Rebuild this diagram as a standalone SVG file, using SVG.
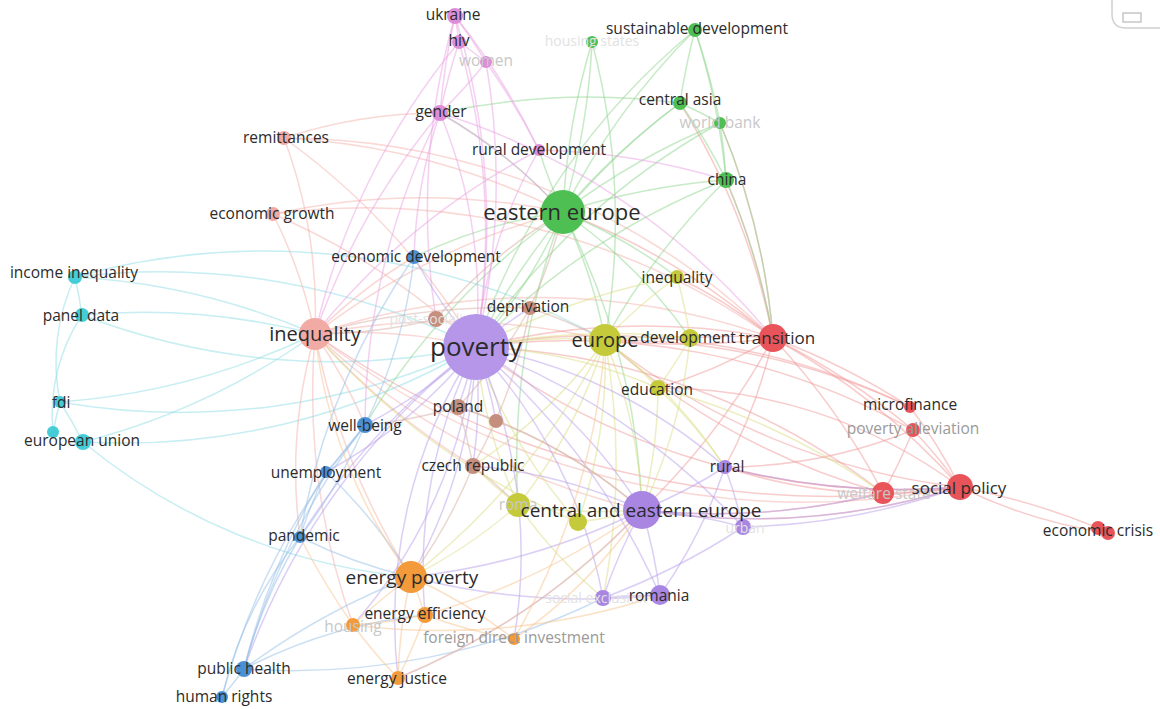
<svg xmlns="http://www.w3.org/2000/svg" width="1160" height="709" viewBox="0 0 1160 709">
<style>
text{font-family:"Open Sans","Liberation Sans",sans-serif;text-anchor:middle;fill:#2b2b2b;font-size:15.5px}
.f{fill:#c8c8c8}.g{fill:#9a9a9a}.vf{fill:#e2e2e2;font-size:14px}
#edges path{fill:none;stroke-width:1.5;stroke-opacity:.5}
.cy path{stroke:#8fdde6}.sa path{stroke:#f4b1ac}.rd path{stroke:#f19a9a}.gr path{stroke:#8fd68f}
.pk path{stroke:#e9a2e3}.ye path{stroke:#dcde86}.pu path{stroke:#b9a0ec}.br path{stroke:#d7afa3}
.bl path{stroke:#98bfe8}.or path{stroke:#f7c38b}
.n-pu{fill:#a986e2}.n-gr{fill:#4ebf52}.n-pk{fill:#de8ed8}.n-sa{fill:#f2aaa5}.n-rd{fill:#e8545a}
.n-ye{fill:#c5ca3a}.n-br{fill:#c58e7d}.n-bl{fill:#4b90d3}.n-cy{fill:#45ccd6}.n-or{fill:#f39b3b}
</style>
<rect width="1160" height="709" fill="#ffffff"/>
<path d="M1160 28 H1126 Q1112 28 1112 14 V0" fill="none" stroke="#d0d0d0" stroke-width="1.5"/>
<rect x="1123" y="13" width="18" height="9" fill="none" stroke="#bdbdbd" stroke-width="1.3"/>
<g id="edges">
<g class="cy">
<path d="M75 277 A700 700 0 0 1 476 347"/>
<path d="M75 277 A700 700 0 0 1 315 334"/>
<path d="M75 277 A700 700 0 0 1 605 340"/>
<path d="M75 277 A500 500 0 0 1 82 315"/>
<path d="M75 277 A200 200 0 0 0 60 402"/>
<path d="M82 315 A700 700 0 0 0 476 347"/>
<path d="M82 315 A700 700 0 0 1 315 334"/>
<path d="M82 315 A180 180 0 0 0 53 432"/>
<path d="M60 402 A700 700 0 0 0 476 347"/>
<path d="M60 402 A700 700 0 0 0 315 334"/>
<path d="M60 402 A500 500 0 0 1 83 442"/>
<path d="M53 432 A500 500 0 0 1 60 402"/>
<path d="M83 442 A700 700 0 0 0 476 347"/>
<path d="M83 442 A600 600 0 0 0 411 577"/>
<path d="M83 442 A700 700 0 0 0 315 334"/>
</g>
<g class="sa">
<path d="M315 334 A500 500 0 0 1 476 347"/>
<path d="M315 334 A700 700 0 0 1 605 340"/>
<path d="M315 334 A700 700 0 0 1 773 338"/>
<path d="M315 334 A700 700 0 0 1 563 212"/>
<path d="M315 334 A800 800 0 0 0 960 487"/>
<path d="M315 334 A700 700 0 0 0 642 510"/>
<path d="M315 334 A700 700 0 0 0 411 577"/>
<path d="M315 334 A700 700 0 0 0 473 466"/>
<path d="M315 334 A500 500 0 0 1 365 425"/>
<path d="M284 138 A500 500 0 0 1 315 334"/>
<path d="M273 214 A500 500 0 0 1 315 334"/>
<path d="M315 334 A500 500 0 0 1 414 257"/>
<path d="M315 334 A700 700 0 0 0 353 625"/>
<path d="M315 334 A500 500 0 0 0 300 537"/>
<path d="M284 138 A700 700 0 0 1 476 347"/>
<path d="M284 138 A700 700 0 0 1 563 212"/>
<path d="M284 138 A700 700 0 0 1 773 338"/>
<path d="M284 138 A500 500 0 0 1 440 113"/>
<path d="M273 214 A700 700 0 0 1 476 347"/>
<path d="M273 214 A700 700 0 0 1 773 338"/>
<path d="M273 214 A700 700 0 0 1 563 212"/>
</g>
<g class="rd">
<path d="M773 338 A700 700 0 0 0 476 347"/>
<path d="M773 338 A700 700 0 0 0 563 212"/>
<path d="M773 338 A700 700 0 0 1 605 340"/>
<path d="M773 338 A700 700 0 0 1 960 487"/>
<path d="M773 338 A700 700 0 0 1 883 493"/>
<path d="M773 338 A700 700 0 0 1 910 407"/>
<path d="M773 338 A700 700 0 0 1 913 430"/>
<path d="M773 338 A700 700 0 0 1 642 510"/>
<path d="M773 338 A700 700 0 0 0 726 180"/>
<path d="M773 338 A700 700 0 0 0 680 103"/>
<path d="M773 338 A500 500 0 0 1 725 467"/>
<path d="M773 338 A500 500 0 0 0 690 338"/>
<path d="M773 338 A500 500 0 0 1 658 388"/>
<path d="M773 338 A500 500 0 0 0 677 277"/>
<path d="M773 338 A700 700 0 0 0 720 123"/>
<path d="M960 487 A700 700 0 0 1 1098 528"/>
<path d="M960 487 A500 500 0 0 0 1108 533"/>
<path d="M960 487 A500 500 0 0 0 913 430"/>
<path d="M960 487 A500 500 0 0 0 910 407"/>
<path d="M960 487 A500 500 0 0 1 883 493"/>
<path d="M960 487 A700 700 0 0 1 642 510"/>
<path d="M960 487 A700 700 0 0 1 476 347"/>
<path d="M960 487 A700 700 0 0 1 605 340"/>
<path d="M960 487 A700 700 0 0 1 725 467"/>
<path d="M960 487 A900 900 0 0 1 315 334"/>
<path d="M960 487 A500 500 0 0 0 658 388"/>
<path d="M883 493 A700 700 0 0 1 605 340"/>
<path d="M883 493 A700 700 0 0 1 642 510"/>
<path d="M883 493 A700 700 0 0 0 476 347"/>
<path d="M883 493 A500 500 0 0 1 725 467"/>
<path d="M883 493 A500 500 0 0 0 913 430"/>
<path d="M913 430 A700 700 0 0 0 476 347"/>
<path d="M913 430 A500 500 0 0 1 725 467"/>
<path d="M910 407 A700 700 0 0 0 476 347"/>
<path d="M910 407 A700 700 0 0 0 605 340"/>
</g>
<g class="gr">
<path d="M563 212 A500 500 0 0 1 476 347"/>
<path d="M563 212 A700 700 0 0 1 726 180"/>
<path d="M563 212 A700 700 0 0 1 680 103"/>
<path d="M563 212 A700 700 0 0 1 720 123"/>
<path d="M563 212 A700 700 0 0 1 695 30"/>
<path d="M563 212 A700 700 0 0 1 592 42"/>
<path d="M563 212 A500 500 0 0 1 539 150"/>
<path d="M563 212 A500 500 0 0 0 440 113"/>
<path d="M563 212 A500 500 0 0 1 605 340"/>
<path d="M563 212 A700 700 0 0 1 642 510"/>
<path d="M563 212 A700 700 0 0 0 518 505"/>
<path d="M563 212 A700 700 0 0 0 365 425"/>
<path d="M563 212 A500 500 0 0 0 414 257"/>
<path d="M563 212 A500 500 0 0 1 677 277"/>
<path d="M563 212 A500 500 0 0 1 690 338"/>
<path d="M695 30 A700 700 0 0 0 680 103"/>
<path d="M695 30 A700 700 0 0 1 726 180"/>
<path d="M695 30 A700 700 0 0 1 720 123"/>
<path d="M695 30 A700 700 0 0 0 476 347"/>
<path d="M592 42 A700 700 0 0 1 563 212"/>
<path d="M592 42 A700 700 0 0 1 605 340"/>
<path d="M680 103 A500 500 0 0 1 726 180"/>
<path d="M680 103 A500 500 0 0 1 720 123"/>
<path d="M680 103 A700 700 0 0 0 476 347"/>
<path d="M680 103 A700 700 0 0 0 440 113"/>
<path d="M726 180 A700 700 0 0 0 476 347"/>
<path d="M726 180 A700 700 0 0 1 773 338"/>
<path d="M726 180 A500 500 0 0 0 720 123"/>
<path d="M726 180 A700 700 0 0 0 605 340"/>
<path d="M720 123 A700 700 0 0 0 476 347"/>
<path d="M720 123 A700 700 0 0 1 773 338"/>
</g>
<g class="pk">
<path d="M455 16 A500 500 0 0 1 459 42"/>
<path d="M455 16 A700 700 0 0 0 440 113"/>
<path d="M455 16 A700 700 0 0 1 476 347"/>
<path d="M455 16 A500 500 0 0 1 486 62"/>
<path d="M455 16 A700 700 0 0 1 539 150"/>
<path d="M455 16 A700 700 0 0 0 436 319"/>
<path d="M459 42 A500 500 0 0 1 486 62"/>
<path d="M459 42 A700 700 0 0 1 476 347"/>
<path d="M459 42 A700 700 0 0 0 440 113"/>
<path d="M459 42 A700 700 0 0 0 315 334"/>
<path d="M486 62 A700 700 0 0 1 476 347"/>
<path d="M486 62 A700 700 0 0 1 539 150"/>
<path d="M486 62 A500 500 0 0 1 440 113"/>
<path d="M440 113 A500 500 0 0 1 476 347"/>
<path d="M440 113 A500 500 0 0 1 563 212"/>
<path d="M440 113 A700 700 0 0 0 315 334"/>
<path d="M440 113 A700 700 0 0 0 365 425"/>
<path d="M440 113 A700 700 0 0 1 773 338"/>
<path d="M440 113 A500 500 0 0 0 414 257"/>
<path d="M539 150 A500 500 0 0 0 476 347"/>
<path d="M539 150 A700 700 0 0 1 726 180"/>
<path d="M539 150 A700 700 0 0 0 315 334"/>
</g>
<g class="ye">
<path d="M605 340 A500 500 0 0 1 690 338"/>
<path d="M605 340 A500 500 0 0 1 677 277"/>
<path d="M605 340 A500 500 0 0 1 658 388"/>
<path d="M605 340 A500 500 0 0 1 518 505"/>
<path d="M605 340 A500 500 0 0 1 578 522"/>
<path d="M605 340 A500 500 0 0 0 476 347"/>
<path d="M605 340 A500 500 0 0 1 642 510"/>
<path d="M605 340 A500 500 0 0 1 473 466"/>
<path d="M605 340 A700 700 0 0 1 411 577"/>
<path d="M605 340 A500 500 0 0 1 725 467"/>
<path d="M605 340 A700 700 0 0 1 603 598"/>
<path d="M690 338 A500 500 0 0 1 658 388"/>
<path d="M690 338 A700 700 0 0 0 476 347"/>
<path d="M690 338 A500 500 0 0 0 677 277"/>
<path d="M690 338 A500 500 0 0 1 642 510"/>
<path d="M677 277 A700 700 0 0 0 476 347"/>
<path d="M518 505 A500 500 0 0 1 476 347"/>
<path d="M518 505 A500 500 0 0 0 642 510"/>
<path d="M518 505 A500 500 0 0 1 411 577"/>
<path d="M518 505 A500 500 0 0 1 473 466"/>
<path d="M518 505 A500 500 0 0 0 603 598"/>
<path d="M658 388 A500 500 0 0 0 476 347"/>
<path d="M658 388 A500 500 0 0 1 642 510"/>
<path d="M658 388 A500 500 0 0 1 725 467"/>
<path d="M658 388 A700 700 0 0 1 883 493"/>
<path d="M578 522 A500 500 0 0 0 642 510"/>
<path d="M578 522 A500 500 0 0 1 476 347"/>
<path d="M578 522 A700 700 0 0 1 315 334"/>
</g>
<g class="pu">
<path d="M476 347 A500 500 0 0 1 642 510"/>
<path d="M476 347 A700 700 0 0 1 660 595"/>
<path d="M476 347 A500 500 0 0 1 725 467"/>
<path d="M476 347 A700 700 0 0 1 743 527"/>
<path d="M476 347 A500 500 0 0 1 603 598"/>
<path d="M476 347 A500 500 0 0 1 458 407"/>
<path d="M476 347 A500 500 0 0 1 473 466"/>
<path d="M476 347 A500 500 0 0 1 365 425"/>
<path d="M476 347 A500 500 0 0 1 414 257"/>
<path d="M476 347 A700 700 0 0 0 300 537"/>
<path d="M476 347 A500 500 0 0 1 326 472"/>
<path d="M476 347 A500 500 0 0 1 411 577"/>
<path d="M476 347 A500 500 0 0 0 425 615"/>
<path d="M476 347 A500 500 0 0 1 530 308"/>
<path d="M476 347 A500 500 0 0 1 496 421"/>
<path d="M476 347 A500 500 0 0 1 353 625"/>
<path d="M476 347 A500 500 0 0 0 398 678"/>
<path d="M476 347 A500 500 0 0 1 514 639"/>
<path d="M476 347 A700 700 0 0 0 244 669"/>
<path d="M642 510 A500 500 0 0 1 660 595"/>
<path d="M642 510 A500 500 0 0 0 603 598"/>
<path d="M642 510 A500 500 0 0 1 743 527"/>
<path d="M642 510 A500 500 0 0 0 725 467"/>
<path d="M642 510 A700 700 0 0 1 411 577"/>
<path d="M642 510 A500 500 0 0 0 473 466"/>
<path d="M642 510 A700 700 0 0 0 883 493"/>
<path d="M642 510 A700 700 0 0 1 398 678"/>
<path d="M642 510 A700 700 0 0 0 960 487"/>
<path d="M725 467 A500 500 0 0 1 743 527"/>
<path d="M725 467 A500 500 0 0 1 660 595"/>
<path d="M725 467 A700 700 0 0 0 960 487"/>
<path d="M660 595 A500 500 0 0 0 603 598"/>
<path d="M660 595 A700 700 0 0 1 411 577"/>
<path d="M743 527 A700 700 0 0 1 603 598"/>
<path d="M743 527 A700 700 0 0 0 960 487"/>
</g>
<g class="br">
<path d="M530 308 A500 500 0 0 1 605 340"/>
<path d="M530 308 A500 500 0 0 1 473 466"/>
<path d="M530 308 A500 500 0 0 1 458 407"/>
<path d="M530 308 A700 700 0 0 0 315 334"/>
<path d="M530 308 A500 500 0 0 0 563 212"/>
<path d="M458 407 A500 500 0 0 1 473 466"/>
<path d="M458 407 A500 500 0 0 1 496 421"/>
<path d="M458 407 A500 500 0 0 1 365 425"/>
<path d="M458 407 A500 500 0 0 1 642 510"/>
<path d="M473 466 A500 500 0 0 1 411 577"/>
<path d="M473 466 A500 500 0 0 1 518 505"/>
<path d="M436 319 A500 500 0 0 1 315 334"/>
<path d="M436 319 A500 500 0 0 1 563 212"/>
<path d="M496 421 A500 500 0 0 1 642 510"/>
</g>
<g class="bl">
<path d="M414 257 A500 500 0 0 1 365 425"/>
<path d="M414 257 A700 700 0 0 0 300 537"/>
<path d="M365 425 A500 500 0 0 1 326 472"/>
<path d="M365 425 A500 500 0 0 1 300 537"/>
<path d="M365 425 A700 700 0 0 0 244 669"/>
<path d="M326 472 A500 500 0 0 0 300 537"/>
<path d="M326 472 A700 700 0 0 0 244 669"/>
<path d="M326 472 A500 500 0 0 1 411 577"/>
<path d="M300 537 A500 500 0 0 0 244 669"/>
<path d="M300 537 A500 500 0 0 0 411 577"/>
<path d="M300 537 A400 400 0 0 0 222 697"/>
<path d="M244 669 A500 500 0 0 1 222 697"/>
<path d="M244 669 A700 700 0 0 1 411 577"/>
<path d="M244 669 A700 700 0 0 0 603 598"/>
<path d="M244 669 A500 500 0 0 1 425 615"/>
<path d="M222 697 A700 700 0 0 1 365 425"/>
</g>
<g class="or">
<path d="M411 577 A500 500 0 0 1 425 615"/>
<path d="M411 577 A500 500 0 0 0 353 625"/>
<path d="M411 577 A500 500 0 0 0 398 678"/>
<path d="M411 577 A500 500 0 0 1 514 639"/>
<path d="M411 577 A500 500 0 0 1 315 334"/>
<path d="M425 615 A500 500 0 0 1 353 625"/>
<path d="M425 615 A500 500 0 0 1 398 678"/>
<path d="M425 615 A500 500 0 0 0 514 639"/>
<path d="M425 615 A700 700 0 0 0 642 510"/>
<path d="M353 625 A500 500 0 0 0 398 678"/>
<path d="M353 625 A700 700 0 0 0 660 595"/>
<path d="M398 678 A700 700 0 0 0 642 510"/>
<path d="M514 639 A500 500 0 0 0 642 510"/>
<path d="M514 639 A700 700 0 0 0 605 340"/>
<path d="M353 625 A700 700 0 0 1 300 537"/>
</g>
</g>
<g id="n-post"><circle class="n-br" cx="436" cy="319" r="8"/><text class="vf" x="436" y="324">post-socialism</text></g>
<g id="n-poverty"><circle cx="476" cy="347" r="33" fill="#b596e9"/><text x="476" y="356" style="font-size:26px">poverty</text></g>
<g id="n-eastern-europe"><circle class="n-gr" cx="563" cy="212" r="22"/><text x="562" y="220" style="font-size:22px">eastern europe</text></g>
<g id="n-inequality"><circle class="n-sa" cx="315" cy="334" r="16"/><text x="315" y="341" style="font-size:20px">inequality</text></g>
<g id="n-europe"><circle class="n-ye" cx="605" cy="340" r="16"/><text x="605" y="347" style="font-size:20px">europe</text></g>
<g id="n-development"><circle class="n-ye" cx="690" cy="338" r="9"/><text x="688" y="343">development</text></g>
<g id="n-transition"><circle class="n-rd" cx="773" cy="338" r="14"/><text x="777" y="344" style="font-size:17px">transition</text></g>
<g id="n-inequality2"><circle class="n-ye" cx="677" cy="277" r="7"/><text x="677" y="283">inequality</text></g>
<g id="n-education"><circle class="n-ye" cx="658" cy="388" r="8"/><text x="657" y="395">education</text></g>
<g id="n-deprivation"><circle class="n-br" cx="530" cy="308" r="7"/><text x="528" y="312">deprivation</text></g>
<g id="n-poland"><circle class="n-br" cx="458" cy="407" r="8"/><text x="458" y="412">poland</text></g>
<g id="n-brown2"><circle class="n-br" cx="496" cy="421" r="7"/></g>
<g id="n-czech"><circle class="n-br" cx="473" cy="466" r="8"/><text x="473" y="471">czech republic</text></g>
<g id="n-wellbeing"><circle class="n-bl" cx="365" cy="425" r="8"/><text x="365" y="431">well-being</text></g>
<g id="n-unemployment"><circle class="n-bl" cx="326" cy="472" r="6"/><text x="326" y="478">unemployment</text></g>
<g id="n-pandemic"><circle class="n-bl" cx="300" cy="537" r="6"/><text x="304" y="541">pandemic</text></g>
<g id="n-econdev"><circle class="n-bl" cx="414" cy="257" r="7"/><text x="416" y="262">economic development</text></g>
<g id="n-public-health"><circle class="n-bl" cx="244" cy="669" r="8"/><text x="244" y="674">public health</text></g>
<g id="n-human-rights"><circle class="n-bl" cx="222" cy="697" r="6"/><text x="224" y="702">human rights</text></g>
<g id="n-econgrowth"><circle class="n-sa" cx="273" cy="214" r="7"/><text x="272" y="219">economic growth</text></g>
<g id="n-remittances"><circle class="n-sa" cx="284" cy="138" r="7"/><text x="286" y="143">remittances</text></g>
<g id="n-ukraine"><circle class="n-pk" cx="455" cy="16" r="8"/><text x="453" y="20">ukraine</text></g>
<g id="n-hiv"><circle class="n-pk" cx="459" cy="42" r="7"/><text x="459" y="46">hiv</text></g>
<g id="n-women"><circle class="n-pk" cx="486" cy="62" r="6"/><text class="f" x="486" y="66">women</text></g>
<g id="n-gender"><circle class="n-pk" cx="440" cy="113" r="8"/><text x="441" y="117">gender</text></g>
<g id="n-ruraldev"><circle class="n-pk" cx="539" cy="150" r="6"/><text x="539" y="155">rural development</text></g>
<g id="n-housing-states"><circle class="n-gr" cx="592" cy="42" r="6"/><text class="vf" x="592" y="46">housing states</text></g>
<g id="n-sustdev"><circle class="n-gr" cx="695" cy="30" r="7"/><text x="697" y="34">sustainable development</text></g>
<g id="n-central-asia"><circle class="n-gr" cx="680" cy="103" r="7"/><text x="680" y="105">central asia</text></g>
<g id="n-world-bank"><circle class="n-gr" cx="720" cy="123" r="6"/><text class="f" x="720" y="128">world bank</text></g>
<g id="n-china"><circle class="n-gr" cx="726" cy="180" r="8"/><text x="727" y="185">china</text></g>
<g id="n-income-ineq"><circle class="n-cy" cx="75" cy="277" r="7"/><text x="74" y="278">income inequality</text></g>
<g id="n-panel"><circle class="n-cy" cx="82" cy="315" r="7"/><text x="81" y="321">panel data</text></g>
<g id="n-fdi"><circle class="n-cy" cx="60" cy="402" r="6"/><text x="61" y="408">fdi</text></g>
<g id="n-eu"><circle class="n-cy" cx="53" cy="432" r="6"/><circle class="n-cy" cx="83" cy="442" r="8"/><text x="82" y="446">european union</text></g>
<g id="n-energy-poverty"><circle class="n-or" cx="411" cy="577" r="16"/><text x="412" y="584" style="font-size:19px">energy poverty</text></g>
<g id="n-housing"><circle class="n-or" cx="353" cy="625" r="7"/><text class="f" x="353" y="632">housing</text></g>
<g id="n-energy-eff"><circle class="n-or" cx="425" cy="615" r="8"/><text x="425" y="619">energy efficiency</text></g>
<g id="n-fdi2"><circle class="n-or" cx="514" cy="639" r="6"/><text class="g" x="514" y="643">foreign direct investment</text></g>
<g id="n-energy-justice"><circle class="n-or" cx="398" cy="678" r="7"/><text x="397" y="684">energy justice</text></g>
<g id="n-roma"><circle class="n-ye" cx="518" cy="505" r="12"/><text class="f" x="518" y="510">roma</text></g>
<g id="n-yellow-small"><circle class="n-ye" cx="578" cy="522" r="9"/></g>
<g id="n-social-exclusion"><circle class="n-pu" cx="603" cy="598" r="8"/><text class="vf" x="596" y="603">social exclusion</text></g>
<g id="n-romania"><circle class="n-pu" cx="660" cy="595" r="10"/><text x="659" y="601">romania</text></g>
<g id="n-urban"><circle class="n-pu" cx="743" cy="527" r="8"/><text class="vf" x="745" y="533">urban</text></g>
<g id="n-rural"><circle class="n-pu" cx="725" cy="467" r="7"/><text x="727" y="472">rural</text></g>
<g id="n-cee"><circle class="n-pu" cx="642" cy="510" r="19"/><text x="641" y="517" style="font-size:19px">central and eastern europe</text></g>
<g id="n-microfinance"><circle class="n-rd" cx="910" cy="407" r="6"/><text x="910" y="410">microfinance</text></g>
<g id="n-poverty-alleviation"><circle class="n-rd" cx="913" cy="430" r="7"/><text class="g" x="913" y="434">poverty alleviation</text></g>
<g id="n-welfare-state"><circle class="n-rd" cx="883" cy="493" r="11"/><text class="f" x="884" y="499">welfare state</text></g>
<g id="n-social-policy"><circle class="n-rd" cx="960" cy="487" r="13"/><text x="959" y="494" style="font-size:17px">social policy</text></g>
<g id="n-economic-crisis"><circle class="n-rd" cx="1098" cy="528" r="7"/><circle class="n-rd" cx="1108" cy="533" r="7"/><text x="1098" y="536">economic crisis</text></g>
</svg>
